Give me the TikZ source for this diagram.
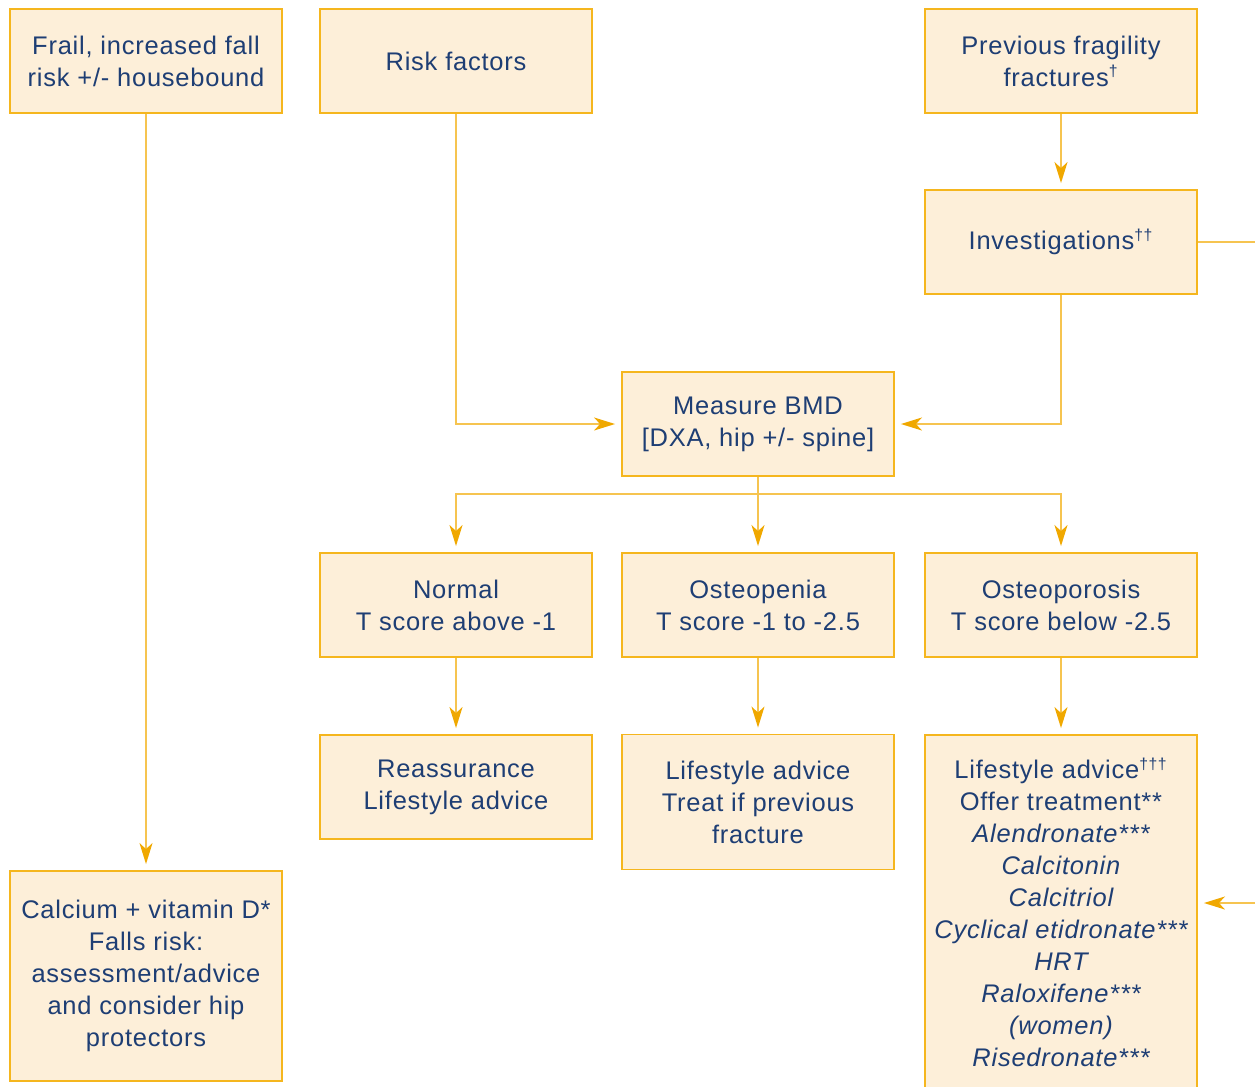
\documentclass[tikz,border=0pt]{standalone}
\usepackage{fontspec}
\setmainfont[LetterSpace=3]{Liberation Sans}
\usetikzlibrary{arrows.meta}
\definecolor{boxfill}{RGB}{253,239,217}
\definecolor{boxline}{RGB}{245,182,30}
\definecolor{linkclr}{RGB}{246,196,80}
\definecolor{tipclr}{RGB}{240,168,0}
\definecolor{ink}{RGB}{30,62,116}

\newcommand{\fnmark}[1]{\textsuperscript{\fontsize{9}{9}\selectfont #1}}

\tikzset{
  stage/.style={draw=boxline, fill=boxfill, line width=1.1pt, text=ink,
    align=center, minimum width=5.44cm, minimum height=2.08cm,
    font=\fontsize{14.5}{18.2}\selectfont},
  link/.style={draw=linkclr, line width=0.9pt},
  flow/.style={link, -{Stealth[length=0.42cm,width=0.26cm,inset=0.12cm,color=tipclr]},
    shorten >=0.12cm}
}

\begin{document}
\begin{tikzpicture}[x=0.02cm, y=-0.02cm]
    \useasboundingbox (0,0) rectangle (1255,1086);

    % top row
    \node[stage] (frail) at (146,61) {Frail, increased fall\\risk +/- housebound};
    \node[stage] (risk) at (456,61) {Risk factors};
    \node[stage] (prev) at (1061,61) {Previous fragility\\fractures\fnmark{†}};
    \node[stage] (inv) at (1061,242) {Investigations\fnmark{††}};

    \node[stage] (bmd) at (758,424) {Measure BMD\\{[DXA, hip +/- spine]}};

    % results
    \node[stage] (normal) at (456,605) {Normal\\T score above -1};
    \node[stage] (penia) at (758,605) {Osteopenia\\T score -1 to -2.5};
    \node[stage] (porosis) at (1061,605) {Osteoporosis\\T score below -2.5};

    % actions
    \node[stage] (reassure) at (456,787) {Reassurance\\Lifestyle advice};
    \node[stage, minimum height=2.7cm] (advice) at (758,802)
        {Lifestyle advice\\Treat if previous\\fracture};
    \node[stage, minimum height=7.08cm] (treat) at (1061,912)
        {Lifestyle advice\fnmark{†††}\\Offer treatment**\\
         \itshape Alendronate***\\\itshape Calcitonin\\\itshape Calcitriol\\
         \itshape Cyclical etidronate***\\\itshape HRT\\\itshape Raloxifene***\\
         \itshape (women)\\\itshape Risedronate***};
    \node[stage, minimum height=4.2cm] (calcium) at (146,976)
        {Calcium + vitamin D*\\Falls risk:\\assessment/advice\\and consider hip\\protectors};

    \coordinate (split) at (758,494);
    \coordinate (invout) at (1255,242);
    \coordinate (treatin) at (1255,903);

    \draw[flow] (frail) -- (calcium);
    \draw[flow] (risk.south) |- (bmd.west);
    \draw[flow] (prev) -- (inv);
    \draw[flow] (inv.south) |- (bmd.east);
    \draw[link] (inv.east) -- (invout);
    \draw[flow] (treatin) -- (treat.east |- treatin);

    \draw[link] (bmd) -- (split);
    \foreach \res in {normal,penia,porosis}
        \draw[flow] (split) -| (\res);

    \foreach \res/\act in {normal/reassure,penia/advice,porosis/treat}
        \draw[flow] (\res) -- (\act);
\end{tikzpicture}
\end{document}
